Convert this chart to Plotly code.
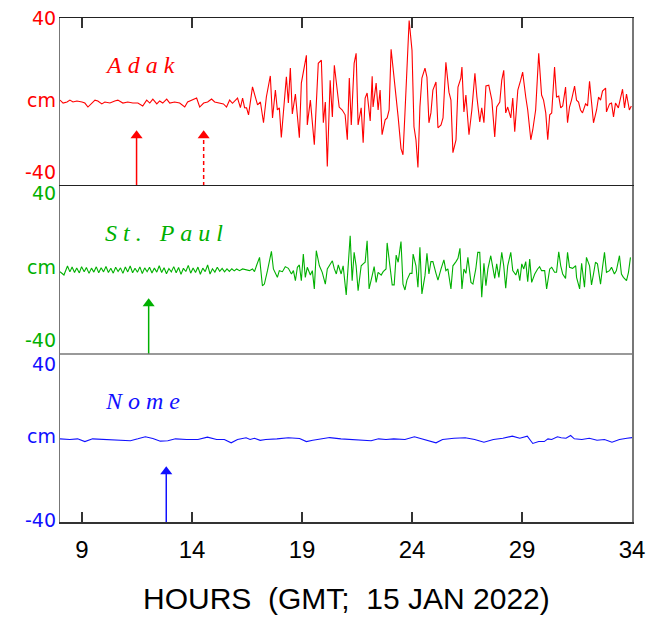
import plotly.graph_objects as go
from plotly.subplots import make_subplots

# ---------------- data ----------------
HOUR_TICKS = [9, 14, 19, 24, 29, 34]
HOUR_RANGE = [8, 34]
CM_RANGE = [-40, 40]

adak_hours = [
    8.00, 8.14, 8.32, 8.45, 8.59, 8.77, 9.00, 9.13, 9.27, 9.45, 9.59, 9.72, 9.90, 10.04, 10.27,
    10.49, 10.63, 10.86, 11.08, 11.31, 11.54, 11.76, 11.94, 12.08, 12.22, 12.40, 12.53, 12.67,
    12.85, 12.99, 13.21, 13.44, 13.67, 13.80, 14.03, 14.21, 14.35, 14.53, 14.71, 14.89, 15.03,
    15.25, 15.43, 15.57, 15.71,
    15.84, 16.07, 16.20, 16.30, 16.39, 16.48, 16.57, 16.70, 16.75, 16.98,
    17.11, 17.25, 17.38, 17.56, 17.66, 17.79, 17.88, 17.97, 18.06, 18.29,
    18.38, 18.47, 18.56, 18.70, 18.88, 18.97, 19.20, 19.24, 19.38, 19.56,
    19.74, 19.88, 19.97, 20.06, 20.15, 20.28, 20.38, 20.47, 20.69, 20.83,
    20.96, 21.06, 21.15, 21.24, 21.37, 21.46, 21.55, 21.69, 21.78, 21.87,
    21.96, 22.10, 22.19, 22.23, 22.37, 22.46, 22.55, 22.64, 22.78, 22.87,
    22.96, 23.05, 23.19, 23.28, 23.37, 23.50, 23.59, 23.68, 23.77, 23.87,
    24.00, 24.09, 24.18, 24.27, 24.36, 24.45, 24.59, 24.68, 24.77, 24.86,
    24.95, 25.09, 25.18, 25.32, 25.41, 25.54, 25.68, 25.77, 25.86, 26.00,
    26.09, 26.22, 26.27, 26.36, 26.45, 26.59, 26.72, 26.86, 26.95, 27.08,
    27.17, 27.27, 27.36, 27.49, 27.63, 27.76, 27.85, 27.99, 28.08, 28.17,
    28.26, 28.35, 28.49, 28.58, 28.67, 28.81, 28.94, 29.03, 29.17, 29.26,
    29.40, 29.49, 29.62, 29.76, 29.89, 29.98, 30.08, 30.17, 30.26, 30.35,
    30.48, 30.57, 30.67, 30.76, 30.85, 30.98, 31.07, 31.16, 31.25, 31.39,
    31.48, 31.57, 31.66, 31.75, 31.89, 31.98, 32.07, 32.16, 32.25, 32.39,
    32.48, 32.57, 32.66, 32.80, 32.84, 32.98, 33.07, 33.16, 33.25, 33.38,
    33.48, 33.57, 33.66, 33.75, 33.88, 33.97,
]
adak_cm = [
    0.9, -0.5, 0.0, 0.9, 0.0, 0.5, 0.0, -0.5, -2.4, -0.5, 0.9, 0.5, -0.9, 0.0, -0.5,
    0.5, 0.9, -0.5, 0.0, -0.5, -0.5, -1.9, 0.9, -0.5, 1.4, -0.9, 0.5, -0.5,
    1.4, -0.5, 0.0, -0.5, -2.4, 0.0, 0.9, 1.9, -2.4, -0.5, 0.0, 1.4, 0.0,
    -0.5, -0.9, -2.4, 0.9,
    -0.6, 1.9, -2.7, 1.9, -2.7, -2.8, -6.1, 4.3, 7.2, -1.4,
    0.0, -9.9, 2.4, 12.4, -7.6, 5.7, -3.8, -2.8, -16.9, 12.0,
    -0.5, 16.2, -5.7, 3.8, -17.0, 9.0, 22.2, -10.9, 0.9, -20.3,
    18.4, 19.9, -9.9, 0.0, -30.7, 10.4, -7.1, 17.5, -2.4, -3.8,
    -6.1, -18.0, 11.4, -10.9, 18.4, 23.2, -10.9, -2.8, -19.4, 1.9,
    4.3, -9.0, 12.3, -2.4, 9.0, -3.8, 5.7, -15.6, -8.5, -7.6,
    -3.8, 25.1, 11.8, 4.7, -7.1, -22.2, -25.1, -5.2, 15.1, 38.8,
    24.6, -11.8, -18.0, -31.2, -2.4, 11.4, 16.1, 11.8, -9.9, -5.2,
    5.7, 9.5, -12.3, -10.9, -7.6, 18.9, 4.7, 0.9, -24.1, -18.0,
    7.1, 11.4, 16.6, -4.7, 3.3, -15.6, -3.8, 13.7, 2.4, -9.5,
    -2.8, -9.9, 7.6, 8.0, 0.9, -16.6, -2.4, 0.0, 10.4, 15.1,
    -5.2, -2.4, -7.6, 1.9, -14.2, 5.7, 10.4, 14.2, 2.4, -3.8,
    -18.0, -13.2, -3.8, 23.2, 3.3, 0.9, -5.2, -18.0, -6.1, -5.2,
    16.6, 2.4, 2.8, -2.8, -1.9, 7.1, -9.9, -2.4, 0.9, 7.6,
    0.9, 0.0, -3.8, -5.2, -0.9, -1.9, 9.9, -1.4, -9.9, -3.8,
    2.4, 0.9, 5.2, 6.6, -4.7, -0.9, -0.5, -7.1, -0.5, -2.8,
    2.4, 6.1, -2.8, 3.8, -3.8, -1.9,
]

stpaul_hours = [
    8.00, 8.18, 8.34, 8.45, 8.55, 8.66, 8.76, 8.88, 8.98, 9.10,
    9.20, 9.32, 9.43, 9.54, 9.65, 9.76, 9.87, 9.98, 10.09, 10.20,
    10.31, 10.42, 10.53, 10.64, 10.75, 10.86, 10.97, 11.08, 11.19, 11.30,
    11.41, 11.52, 11.63, 11.74, 11.85, 11.96, 12.07, 12.18, 12.29, 12.40,
    12.51, 12.62, 12.73, 12.84, 12.95, 13.06, 13.17, 13.28, 13.39, 13.50,
    13.61, 13.72, 13.83, 13.94, 14.05, 14.16, 14.27, 14.38, 14.49, 14.60,
    14.71, 14.82, 14.93, 15.04, 15.15, 15.26, 15.37, 15.48, 15.59, 15.70,
    15.81, 15.92, 16.03,
    16.16, 16.30, 16.48, 16.61, 16.75, 16.84, 16.93, 17.07, 17.20, 17.29,
    17.43, 17.61, 17.70, 17.88, 17.97, 18.11, 18.24, 18.38, 18.52, 18.61,
    18.70, 18.79, 18.88, 18.97, 19.06, 19.15, 19.24, 19.38, 19.47, 19.56,
    19.65, 19.79, 19.92, 20.06, 20.15, 20.38, 20.47, 20.56, 20.65, 20.78,
    20.87, 21.01, 21.19, 21.28, 21.37, 21.46, 21.55, 21.69, 21.78, 21.87,
    21.96, 22.05, 22.19, 22.28, 22.37, 22.46, 22.60, 22.69, 22.82, 22.87,
    23.10, 23.19, 23.28, 23.37, 23.50, 23.59, 23.68, 23.77, 23.91, 24.00,
    24.05, 24.18, 24.27, 24.36, 24.45, 24.59, 24.68, 24.77, 24.86, 24.95,
    25.09, 25.18, 25.32, 25.45, 25.54, 25.63, 25.77, 25.86, 26.00, 26.09,
    26.18, 26.27, 26.36, 26.45, 26.54, 26.68, 26.77, 26.90, 26.99, 27.08,
    27.17, 27.27, 27.36, 27.45, 27.58, 27.67, 27.76, 27.85, 27.95, 28.08,
    28.17, 28.26, 28.35, 28.49, 28.58, 28.72, 28.81, 28.90, 28.99, 29.08,
    29.17, 29.26, 29.35, 29.44, 29.58, 29.71, 29.80, 29.89, 30.03, 30.12,
    30.26, 30.35, 30.48, 30.57, 30.67, 30.76, 30.85, 30.98, 31.07, 31.16,
    31.30, 31.44, 31.48, 31.62, 31.71, 31.84, 31.93, 32.07, 32.16, 32.25,
    32.34, 32.43, 32.57, 32.66, 32.75, 32.84, 32.98, 33.07, 33.20, 33.29,
    33.43, 33.52, 33.61, 33.75, 33.84, 33.93,
]
stpaul_cm = [
    -0.8, -2.4, 1.9, -0.9, 1.4, -1.2, 1.0, -1.4, 1.6, -0.8,
    1.2, -1.6, 0.9, -1.0, 1.5, -1.3, 1.1, -0.9, 1.7, -1.2,
    0.8, -1.5, 1.3, -0.7, 1.0, -1.6, 1.4, -0.9, 1.9, -1.3,
    0.8, -1.1, 1.5, -1.7, 1.0, -0.8, 1.3, -1.4, 0.9, -1.0,
    2.0, -1.2, 1.1, -1.8, 0.7, -0.9, 1.6, -1.3, 1.2, -2.1,
    0.8, -0.7, 2.2, -1.5, 1.0, -1.2, 1.4, -2.0, 0.9, -0.8,
    2.4, -1.9, 0.6, -1.0, 1.3, -0.6, 0.8, -0.9, 0.5, -0.7,
    0.6, -0.4, 0.5,
    -0.3, 0.5, 0.1, -0.3, 0.5, -0.8, 2.0, 6.0, -7.5, -6.7,
    -0.3, 8.9, 0.5, -3.5, -0.3, -0.8, 1.6, 0.8, -1.9, -0.3,
    -5.1, 1.3, 2.4, -5.1, 7.6, -3.5, 1.3, -2.4, -0.3, -9.0,
    9.2, 2.0, -1.1, -6.7, 0.5, 4.4, 0.5, -1.9, 2.4, -1.9,
    2.0, -11.9, 16.3, -5.1, 8.4, 2.0, -9.9, 2.0, 2.9, 3.7,
    13.9, -9.0, -2.7, 1.6, -5.9, -1.1, -2.4, -0.8, 0.5, 12.9,
    -7.1, -7.1, 7.1, 3.7, 13.5, -6.7, -9.5, -4.8, -1.6, -1.6,
    7.6, 2.0, -8.2, 10.8, -11.4, -2.7, 7.9, -1.9, 4.0, 4.0,
    -1.6, -4.8, 0.5, 4.8, -0.3, 0.5, -9.0, 2.0, 4.0, 5.6,
    10.3, -9.0, 0.5, -1.6, 6.0, -5.9, -6.7, 0.5, 8.4, 8.4,
    -13.0, 3.2, -7.5, 0.5, 6.8, 1.3, -4.0, 2.9, -3.5, 8.4,
    2.0, -8.7, 2.0, 8.4, -0.3, -2.4, 0.5, -5.1, 2.9, 0.5,
    4.0, -5.6, 5.2, -5.9, -1.9, 0.5, 1.6, -0.3, -0.3, -9.0,
    0.5, 1.3, -1.1, -1.1, 8.7, 2.0, -1.9, -4.0, 8.4, 1.3,
    0.8, 2.0, -3.5, -9.0, 3.2, -8.2, 6.0, 2.0, -7.1, -1.9,
    3.7, 2.9, -6.7, 1.3, 8.4, -1.1, -0.3, 1.3, -1.9, -0.3,
    6.8, -1.9, -3.5, -5.1, -1.1, 6.0,
]

nome_hours = [
    8.00, 8.45, 8.80, 9.13, 9.48, 9.99, 10.49, 11.20, 11.54, 11.88,
    12.22, 12.56, 12.90, 13.25, 13.76, 14.27, 14.70, 15.12, 15.47, 15.78,
    16.07, 16.46, 16.64, 16.84, 17.10, 17.35, 17.86, 18.38, 18.89, 19.20,
    19.49, 19.74, 20.26, 20.77, 21.28, 21.80, 22.14, 22.48, 22.82, 23.17,
    23.68, 24.11, 24.45, 24.79, 25.09, 25.39, 25.91, 26.42, 26.85, 27.27,
    27.70, 28.13, 28.56, 28.90, 29.24, 29.49, 29.76, 30.01, 30.18, 30.35,
    30.61, 30.78, 31.00, 31.21, 31.38, 31.72, 32.06, 32.41, 32.75, 33.09,
    33.43, 33.77, 34.00,
]
nome_cm = [
    -0.4, -0.7, -0.4, -1.7, -0.4, -0.7, -0.7, -1.3, -0.4, 0.6,
    -0.2, -1.5, -1.3, -0.4, -0.7, -0.7, 0.4, -0.7, -0.7, -2.3,
    -0.7, 0.1, -0.7, -0.1, -1.1, -0.7, -0.4, 0.1, -0.2, -1.7,
    -1.1, -0.7, 0.2, -0.4, -0.7, -1.1, -1.3, -0.4, -0.7, -0.4,
    -0.7, 0.6, -0.4, -1.1, -2.3, -0.7, -0.1, 0.1, -0.7, -2.0,
    -0.7, -0.1, 0.9, -0.1, 0.9, -2.6, -1.7, -1.7, -0.4, -0.7,
    0.6, 0.1, -0.1, 1.2, -0.4, -0.7, -0.1, -1.1, -0.7, -2.0,
    -0.7, -0.1, 0.2,
]

station_names = ["Adak", "St. Paul", "Nome"]
station_colors = ["#ff0000", "#00b000", "#1010ff"]
# first-arrival markers (hours); second Adak marker is the dashed one
adak_arrivals = [11.48, 14.53]
adak_arrival_dash = ["solid", "dash"]
stpaul_arrivals = [12.03]
nome_arrivals = [12.83]

# ---------------- style constants ----------------
ARROW_HEAD_CM = -16.0
LABEL_X_HOURS = 9.95
LABEL_Y_CM = 17.5
FIG_W, FIG_H = 657, 617

series = [
    (adak_hours, adak_cm, adak_arrivals, adak_arrival_dash),
    (stpaul_hours, stpaul_cm, stpaul_arrivals, ["solid"]),
    (nome_hours, nome_cm, nome_arrivals, ["solid"]),
]

fig = make_subplots(rows=3, cols=1, shared_xaxes=True, vertical_spacing=0)

for i, (hrs, vals, arrivals, dashes) in enumerate(series):
    row = i + 1
    col = station_colors[i]
    fig.add_trace(go.Scatter(x=hrs, y=vals, mode="lines",
                             line=dict(color=col, width=1.1),
                             hoverinfo="skip"), row=row, col=1)
    for t, d in zip(arrivals, dashes):
        fig.add_trace(go.Scatter(x=[t, t], y=[CM_RANGE[0], ARROW_HEAD_CM], mode="lines",
                                 line=dict(color=col, width=1.5,
                                           dash="4px,3px" if d == "dash" else "solid"),
                                 hoverinfo="skip"), row=row, col=1)
        fig.add_trace(go.Scatter(x=[t], y=[ARROW_HEAD_CM], mode="markers",
                                 marker=dict(symbol="triangle-up", size=10.5, color=col,
                                             line=dict(width=0)),
                                 hoverinfo="skip"), row=row, col=1)

annotations = []
ylab_font = "DejaVu Sans"
yshifts = [(0, 2, 14), (-7, 3, 14), (-10, 2, 2)]
for i in range(3):
    yref = "y" if i == 0 else f"y{i+1}"
    xref = "x" if i == 0 else f"x{i+1}"
    col = station_colors[i]
    for val, txt, ys in zip([40, 0, -40], ["40", "cm", "-40"], yshifts[i]):
        annotations.append(dict(xref="paper", yref=yref, x=0, y=val, text=txt,
                                showarrow=False, xanchor="right", yanchor="middle",
                                xshift=-2, yshift=ys,
                                font=dict(family=ylab_font, size=19, color=col)))
    name = "\u00a0".join(list(station_names[i])).replace(" ", "\u00a0")
    annotations.append(dict(xref=xref, yref=yref, x=LABEL_X_HOURS, y=LABEL_Y_CM,
                            text=name, showarrow=False, xanchor="left", yanchor="middle",
                            font=dict(family="Liberation Serif", size=24, color=col,
                                      style="italic")))

annotations.append(dict(xref="paper", yref="paper", x=0.5, y=-0.151,
                        text="HOURS\u00a0\u00a0(GMT;\u00a0\u00a015\u00a0JAN\u00a02022)",
                        showarrow=False, xanchor="center", yanchor="middle",
                        font=dict(family="Liberation Sans", size=30, color="#000")))

fig.update_layout(
    width=FIG_W, height=FIG_H,
    margin=dict(l=60, r=24, t=18, b=95),
    paper_bgcolor="white", plot_bgcolor="white",
    showlegend=False,
    hovermode=False,
    annotations=annotations,
    shapes=[dict(type="line", xref="paper", yref="paper", x0=0, x1=1, y0=1/3, y1=1/3,
                 line=dict(color="#777", width=1.5), layer="above")],
)

for i in range(3):
    fig.update_yaxes(range=CM_RANGE, showticklabels=False, showgrid=False, zeroline=False,
                     ticks="", showline=True, linecolor="#777", linewidth=1.5, mirror=True,
                     row=i + 1, col=1)

fig.update_xaxes(range=HOUR_RANGE, showgrid=False, zeroline=False)
fig.update_xaxes(side="top", ticks="inside", tickvals=HOUR_TICKS, ticklen=10, tickwidth=1.5,
                 tickcolor="#333", showline=True, linecolor="#222", linewidth=1.5,
                 showticklabels=False, row=1, col=1)
fig.update_xaxes(side="top", ticks="", showline=True, linecolor="#222", linewidth=1.5,
                 showticklabels=False, row=2, col=1)
fig.update_xaxes(ticks="inside", tickvals=HOUR_TICKS, ticklen=10, tickwidth=1.5,
                 tickcolor="#333", showline=True, linecolor="#333", linewidth=1.5,
                 showticklabels=True, ticklabelstandoff=6,
                 tickfont=dict(family="Liberation Sans", size=24, color="#000"),
                 row=3, col=1)

# remove the page's default body margin so the figure sits at the window origin
POST = ("document.documentElement.style.overflow='hidden';"
        "document.body.style.margin='0';document.body.style.overflow='hidden';"
        "var gd=document.getElementById('{plot_id}');"
        "Plotly.relayout(gd,{width:%d,height:%d});" % (FIG_W, FIG_H))

fig.write_html("out.html", post_script=POST,
               config={"displayModeBar": False, "staticPlot": True})
